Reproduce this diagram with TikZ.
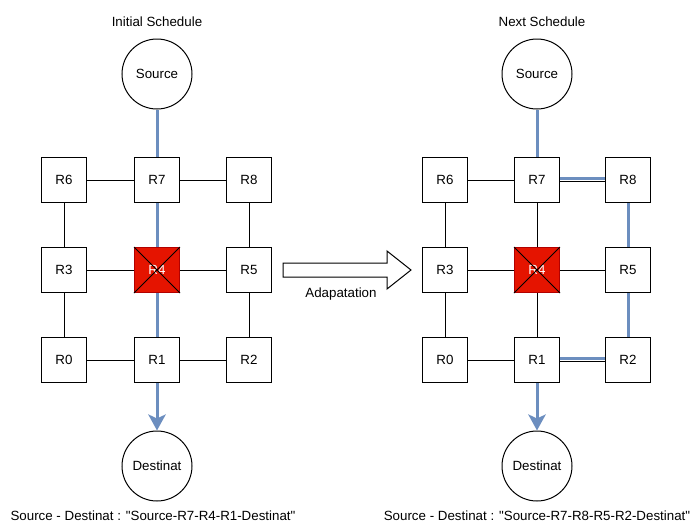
\documentclass[tikz,border=0pt]{standalone}
\usepackage{fontspec}
\setmainfont{Liberation Sans}[Ligatures=TeXOff]
\usetikzlibrary{arrows.meta}
\definecolor{pathblue}{HTML}{6C8EBF}
\definecolor{failfill}{HTML}{E51400}
\definecolor{failline}{HTML}{B20000}
\begin{document}
\begin{tikzpicture}[x=0.75pt,y=-0.75pt,
  every node/.style={font=\fontsize{10pt}{12pt}\selectfont},
  router/.style={draw=black,line width=0.75pt,fill=white,minimum size=33.75pt,inner sep=0pt},
  failed/.style={router,draw=failline,fill=failfill,text=white},
  endpoint/.style={draw=black,line width=0.75pt,fill=white,circle,minimum size=52.5pt,inner sep=0pt},
  link/.style={draw=black,line width=0.75pt},
  route/.style={draw=pathblue,line width=2.25pt},
  routeend/.style={route,-{Stealth[length=12pt,width=13pt,inset=3pt]}},
  label/.style={inner sep=0pt}]
\useasboundingbox (0,0) rectangle (694,525);

% ---------- left network: initial schedule ----------
\node[label] (ltitle) at (157,22) {Initial Schedule};
\node[endpoint] (lsrc) at (157,74) {Source};
\node[endpoint] (ldst) at (157,466) {Destinat};
\node[router] (lR6) at (64,180) {R6};
\node[router] (lR7) at (157,180) {R7};
\node[router] (lR8) at (249,180) {R8};
\node[router] (lR3) at (64,270) {R3};
\node[failed] (lR4) at (157,270) {R4};
\node[router] (lR5) at (249,270) {R5};
\node[router] (lR0) at (64,360) {R0};
\node[router] (lR1) at (157,360) {R1};
\node[router] (lR2) at (249,360) {R2};

\draw[link] (lR6) -- (lR7);
\draw[link] (lR7) -- (lR8);
\draw[link] (lR3) -- (lR4);
\draw[link] (lR4) -- (lR5);
\draw[link] (lR0) -- (lR1);
\draw[link] (lR1) -- (lR2);
\draw[link] (lR6) -- (lR3);
\draw[link] (lR3) -- (lR0);
\draw[link] (lR8) -- (lR5);
\draw[link] (lR5) -- (lR2);
\draw[route] (lsrc) -- (lR7);
\draw[route] (lR7) -- (lR4);
\draw[route] (lR4) -- (lR1);
\draw[routeend] (lR1) -- (ldst);
\draw[black,line width=0.75pt] (lR4.north west) -- (lR4.south east)
  (lR4.north east) -- (lR4.south west);

\node[label] (lpath) at (153,516) {Source - Destinat : "Source-R7-R4-R1-Destinat"};

% ---------- adaptation arrow ----------
\draw[line width=0.75pt,fill=white]
  (283,263) -- (387,263) -- (387,251) -- (411,270) -- (387,289) -- (387,277) -- (283,277) -- cycle;
\node[label] (atext) at (341,294) {Adapatation};

% ---------- right network: next schedule ----------
\node[label] (rtitle) at (542,22) {Next Schedule};
\node[endpoint] (rsrc) at (537,74) {Source};
\node[endpoint] (rdst) at (537,466) {Destinat};
\node[router] (rR6) at (445,180) {R6};
\node[router] (rR7) at (537,180) {R7};
\node[router] (rR8) at (628,180) {R8};
\node[router] (rR3) at (445,270) {R3};
\node[failed] (rR4) at (537,270) {R4};
\node[router] (rR5) at (628,270) {R5};
\node[router] (rR0) at (445,360) {R0};
\node[router] (rR1) at (537,360) {R1};
\node[router] (rR2) at (628,360) {R2};

\draw[link] (rR6) -- (rR7);
\draw[link] (rR3) -- (rR4);
\draw[link] (rR4) -- (rR5);
\draw[link] (rR0) -- (rR1);
\draw[link] (rR6) -- (rR3);
\draw[link] (rR3) -- (rR0);
\draw[link] (rR7) -- (rR4);
\draw[link] (rR4) -- (rR1);
\draw[route] (rsrc) -- (rR7);
\draw[route] ([yshift=1.2pt]rR7.east) -- ([yshift=1.2pt]rR8.west);
\draw[link] ([yshift=-1pt]rR7.east) -- ([yshift=-1pt]rR8.west);
\draw[route] (rR8) -- (rR5);
\draw[route] (rR5) -- (rR2);
\draw[route] ([yshift=1.2pt]rR1.east) -- ([yshift=1.2pt]rR2.west);
\draw[link] ([yshift=-1pt]rR1.east) -- ([yshift=-1pt]rR2.west);
\draw[routeend] (rR1) -- (rdst);
\draw[black,line width=0.75pt] (rR4.north west) -- (rR4.south east)
  (rR4.north east) -- (rR4.south west);

\node[label] (rpath) at (537,516) {Source - Destinat : "Source-R7-R8-R5-R2-Destinat"};
\end{tikzpicture}
\end{document}
